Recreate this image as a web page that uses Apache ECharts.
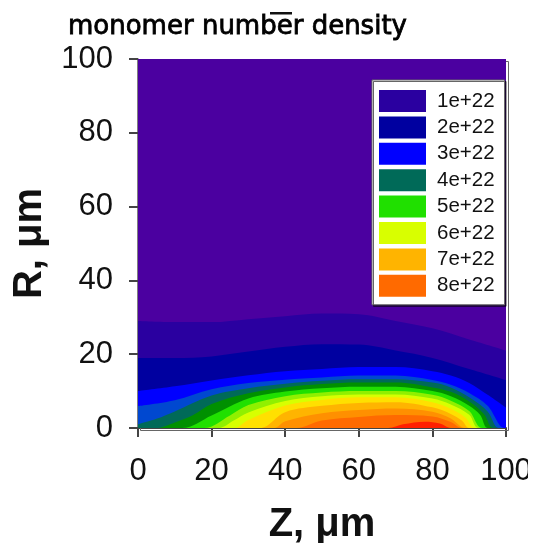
<!DOCTYPE html>
<html><head><meta charset="utf-8">
<style>html,body{margin:0;padding:0;background:#fff}#c{width:534px;height:543px}</style>
<script src="https://cdn.jsdelivr.net/npm/echarts@6/dist/echarts.min.js"></script>
</head><body><div id="c"></div>
<script>
const legendLabels = ['1e+22','2e+22','3e+22','4e+22','5e+22','6e+22','7e+22','8e+22'];

const c05 = [[0,100],[100,100]];
const c10 = [[0,29],[10,28.7],[20,28.7],[30,29.5],[40,30.3],[50,31],[60,30.8],[70,29],[80,27],[90,24],[100,21]];
const c20 = [[0,19],[10,19],[20,19.4],[30,20.7],[40,22],[50,22.7],[60,22.6],[70,21],[80,19],[90,16],[100,13]];
const c30 = [[0,10],[10,11.3],[20,12.9],[30,14.3],[40,15.4],[50,16],[60,16.5],[70,16.5],[80,15.4],[85,14.2],[90,12.2],[95,9],[100,5.5]];
const c35 = [[0,5.9],[10,7.5],[20,10.5],[30,12.2],[40,13.1],[50,13.7],[60,14.2],[70,14.2],[80,13],[85,11.7],[90,9.5],[95,6],[99.5,0],[100,0]];
const c40 = [[0,1],[5,2.5],[10,4.5],[20,8.8],[30,10.8],[40,12],[50,12.8],[60,13.2],[70,13.2],[80,12.3],[85,11],[90,8.3],[95,4.5],[98,0],[100,0]];
const c45 = [[0,0],[5,0],[10,1.5],[15,3.5],[20,6.5],[30,9.4],[40,11],[50,11.9],[60,12.3],[70,12.3],[80,11],[85,9.8],[90,7.2],[94,3.8],[96.5,0],[100,0]];
const c50 = [[0,0],[12,0],[20,3.4],[30,8],[40,9.9],[50,10.8],[60,11.2],[70,11.2],[80,10],[85,8.6],[90,6],[93,3.5],[95,0],[100,0]];
const c55 = [[0,0],[18,0],[25,3.4],[30,6.2],[40,8.6],[50,9.6],[60,10],[70,10],[80,9],[85,7.4],[90,4.6],[93.5,0],[100,0]];
const c60 = [[0,0],[22,0],[26,2],[30,4.2],[40,7.3],[50,8.6],[60,9.1],[70,9.1],[80,8],[85,6.4],[90,3.6],[92.5,0],[100,0]];
const c65 = [[0,0],[26,0],[30,2.2],[40,6.1],[50,7.6],[60,8.3],[70,8.3],[80,7],[85,5.2],[89,2.8],[91.5,0],[100,0]];
const c70 = [[0,0],[33,0],[40,4.3],[50,6],[60,6.8],[70,7],[80,5.6],[85,3.8],[88,2],[90,0],[100,0]];
const c75 = [[0,0],[37,0],[40,1.8],[50,4],[60,4.9],[70,5.3],[80,4.4],[85,2.6],[89,0],[100,0]];
const c80 = [[0,0],[43,0],[50,2],[60,3],[70,3.5],[80,3.1],[85,1.6],[88,0],[100,0]];
const c85 = [[0,0],[68,0],[72,1],[78,1.7],[82,1.2],[85,0],[100,0]];

const bands = [
 ['0.5e+22', c05, '#4B00A0'],
 ['1e+22', c10, '#2A00A0'],
 ['2e+22', c20, '#0000A0'],
 ['3e+22', c30, '#0000FF'],
 ['3.5e+22', c35, '#0048D0'],
 ['4e+22', c40, '#006A58'],
 ['4.5e+22', c45, '#009000'],
 ['5e+22', c50, '#20E000'],
 ['5.5e+22', c55, '#90F000'],
 ['6e+22', c60, '#D8FF00'],
 ['6.5e+22', c65, '#FFE000'],
 ['7e+22', c70, '#FFB400'],
 ['7.5e+22', c75, '#FF9000'],
 ['8e+22', c80, '#FF6A00'],
 ['8.5e+22', c85, '#FF2000']
];
const font = '"Liberation Sans", Arial, sans-serif';
const chart = echarts.init(document.getElementById('c'), null, {renderer:'canvas'});
chart.setOption({
  animation:false,
  backgroundColor:'#fff',
  title:{text:'monomer number density',left:68,top:14,padding:0,textStyle:{fontFamily:'"DejaVu Sans"',fontWeight:'normal',fontSize:26,color:'#000',textBorderColor:'#000',textBorderWidth:0.8}},
  grid:{left:138,top:59,width:368,height:369,containLabel:false,outerBoundsMode:'none'},
  xAxis:{type:'value',min:0,max:100,interval:20,name:'Z, μm',nameLocation:'middle',nameGap:77,
    nameTextStyle:{fontFamily:font,fontWeight:'bold',fontSize:40,color:'#111'},
    axisLine:{show:true,onZero:false,lineStyle:{color:'#444',width:2}},
    axisTick:{show:true,length:9,lineStyle:{color:'#444',width:2}},
    axisLabel:{fontFamily:font,fontSize:31,color:'#111',margin:28,showMaxLabel:true,showMinLabel:true,hideOverlap:false},
    splitLine:{show:false}},
  yAxis:{type:'value',min:0,max:100,interval:20,name:'R, μm',nameLocation:'middle',nameGap:88,
    nameTextStyle:{fontFamily:font,fontWeight:'bold',fontSize:40,color:'#111'},
    axisLine:{show:true,onZero:false,lineStyle:{color:'#555',width:1.5}},
    axisTick:{show:true,length:9,lineStyle:{color:'#444',width:2}},
    axisLabel:{fontFamily:font,fontSize:31,color:'#111',margin:25,hideOverlap:false,padding:[3,0,0,0]},
    splitLine:{show:false}},
  legend:{show:true,orient:'vertical',left:372,top:80,width:136,height:224,padding:[10,10,8,7],
    data:legendLabels,icon:'rect',itemWidth:47,itemHeight:22,itemGap:4.4,
    backgroundColor:'#fff',borderColor:'#666',borderWidth:1,
    shadowColor:'rgba(0,0,0,0.6)',shadowBlur:0,shadowOffsetX:1.5,shadowOffsetY:1.5,
    selectedMode:false,
    textStyle:{fontFamily:font,fontSize:20.5,color:'#111',lineHeight:22,padding:[0,0,0,6]}},
  series:bands.map(b=>({
    type:'line',name:b[0],data:b[1],smooth:0.35,showSymbol:false,symbol:'none',silent:true,clip:true,
    lineStyle:{width:0,color:b[2]},itemStyle:{color:b[2]},areaStyle:{color:b[2],opacity:1,origin:'start'},z:2
  })),
  graphic:[
    {type:'rect',left:270,top:12,shape:{width:22,height:2.5},style:{fill:'#111'},z:20},
    {type:'rect',left:138,top:59,shape:{width:368,height:369},style:{fill:'none',stroke:'#666',lineWidth:1},silent:true,z:1},
    {type:'rect',left:528,top:440,shape:{width:6,height:50},style:{fill:'#fff'},z:20}
  ]
});
</script></body></html>
